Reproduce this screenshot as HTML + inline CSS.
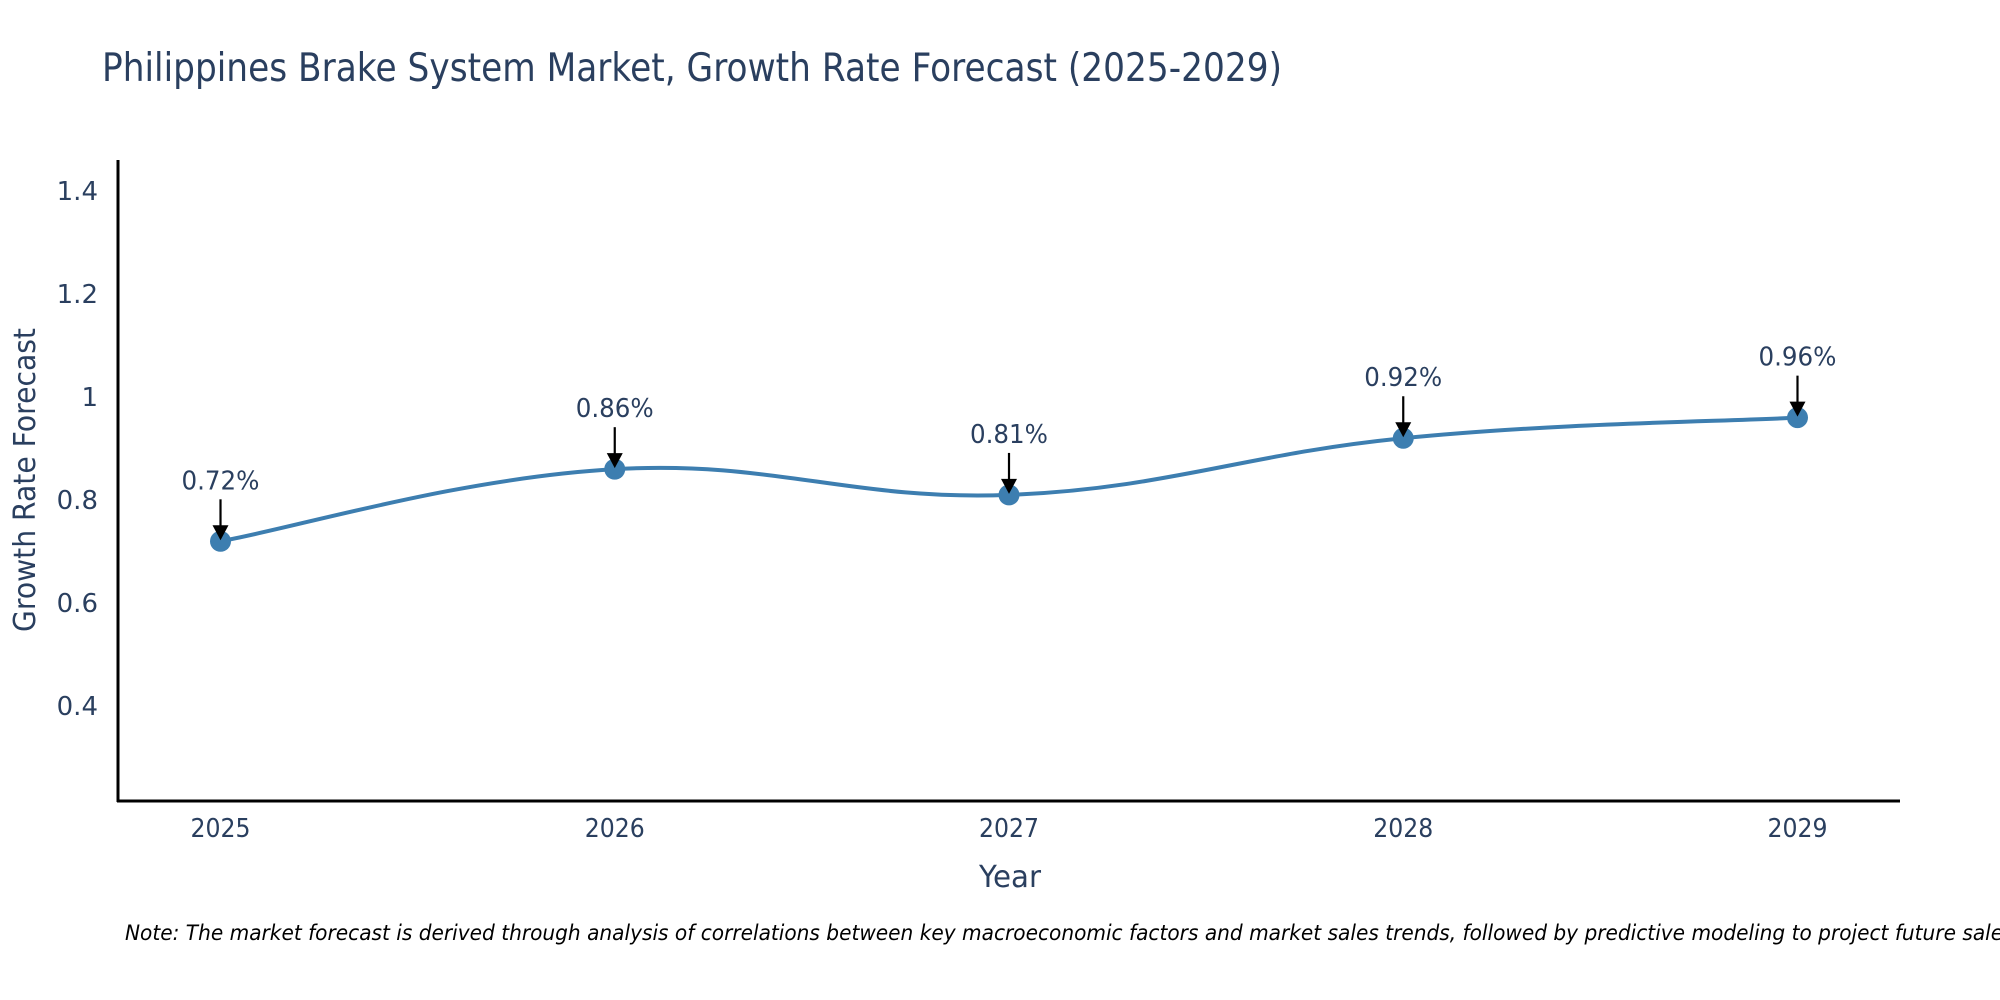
<!DOCTYPE html>
<html><head><meta charset="utf-8"><style>
html,body{margin:0;padding:0;background:#fff;}
svg{display:block;font-family:"DejaVu Sans","Liberation Sans",sans-serif;}
</style></head><body>
<svg id="chart" width="2000" height="1000" viewBox="0 0 2000 1000">
<text x="102" y="81" font-size="39" fill="#2a3f5f" textLength="1180" lengthAdjust="spacingAndGlyphs">Philippines Brake System Market, Growth Rate Forecast (2025-2029)</text>
<g id="yticks"></g>
<g id="xticks"></g>
<g id="series"></g>
<g id="annots"></g>
<line x1="118" y1="160" x2="118" y2="802" stroke="#000" stroke-width="3"/>
<line x1="117" y1="801" x2="1900" y2="801" stroke="#000" stroke-width="3"/>
<text transform="translate(35,480) rotate(-90)" text-anchor="middle" font-size="30" fill="#2a3f5f" textLength="304" lengthAdjust="spacingAndGlyphs">Growth Rate Forecast</text>
<text x="1010" y="887" text-anchor="middle" font-size="30" fill="#2a3f5f" textLength="62" lengthAdjust="spacingAndGlyphs">Year</text>
<text x="125" y="940" font-size="21" font-style="italic" fill="#000" textLength="1895" lengthAdjust="spacingAndGlyphs">Note: The market forecast is derived through analysis of correlations between key macroeconomic factors and market sales trends, followed by predictive modeling to project future sales.</text>
</svg>
<script>
const years = [2025, 2026, 2027, 2028, 2029];
const values = [0.72, 0.86, 0.81, 0.92, 0.96];
const labels = ["0.72%", "0.86%", "0.81%", "0.92%", "0.96%"];
const yTickValues = [0.4, 0.6, 0.8, 1, 1.2, 1.4];
const yTickLabels = ["0.4", "0.6", "0.8", "1", "1.2", "1.4"];

const NS = "http://www.w3.org/2000/svg";
const xMin = 2024.74, xMax = 2029.26, xL = 118, xR = 1900;
const yMin = 0.216, yMax = 1.46, yB = 801, yT = 160;
function xs(v){ return xL + (v - xMin) / (xMax - xMin) * (xR - xL); }
function ys(v){ return yB - (v - yMin) / (yMax - yMin) * (yB - yT); }
function mk(tag, attrs, parent){ const e = document.createElementNS(NS, tag); for (const k in attrs) e.setAttribute(k, attrs[k]); parent.appendChild(e); return e; }

const yt = document.getElementById('yticks');
yTickValues.forEach((v, i) => {
  const t = mk('text', {x: 98, y: ys(v) + 9, 'text-anchor': 'end', 'font-size': 26, fill: '#2a3f5f'}, yt);
  t.textContent = yTickLabels[i];
  
  
});
const xt = document.getElementById('xticks');
years.forEach((y) => {
  const t = mk('text', {x: xs(y), y: 837, 'text-anchor': 'middle', 'font-size': 26, fill: '#2a3f5f', textLength: 60, lengthAdjust: 'spacingAndGlyphs'}, xt);
  t.textContent = String(y);
  
  
});

const pts = years.map((y, i) => [xs(y), ys(values[i])]);
let d = 'M' + pts[0][0] + ',' + pts[0][1];
const s = 0.2;
for (let i = 0; i < pts.length - 1; i++) {
  const p0 = pts[Math.max(i - 1, 0)], p1 = pts[i], p2 = pts[i + 1], p3 = pts[Math.min(i + 2, pts.length - 1)];
  const c1 = [p1[0] + (p2[0] - p0[0]) * s, p1[1] + (p2[1] - p0[1]) * s];
  const c2 = [p2[0] - (p3[0] - p1[0]) * s, p2[1] - (p3[1] - p1[1]) * s];
  d += ' C' + c1[0] + ',' + c1[1] + ' ' + c2[0] + ',' + c2[1] + ' ' + p2[0] + ',' + p2[1];
}
const ser = document.getElementById('series');
const line = mk('path', {d: d, fill: 'none', stroke: '#3d7eb0', 'stroke-width': 4}, ser);


pts.forEach((p) => {
  const c = mk('circle', {cx: p[0], cy: p[1], r: 10.5, fill: '#3d7eb0'}, ser);
  
  
});

const an = document.getElementById('annots');
pts.forEach((p, i) => {
  const l = mk('line', {x1: p[0], y1: p[1] - 42, x2: p[0], y2: p[1] - 14, stroke: '#000', 'stroke-width': 2.2}, an);
  
  
  const h = mk('polygon', {points: (p[0] - 8) + ',' + (p[1] - 16) + ' ' + (p[0] + 8) + ',' + (p[1] - 16) + ' ' + p[0] + ',' + (p[1] - 1), fill: '#000'}, an);
  
  
  const t = mk('text', {x: p[0], y: p[1] - 52, 'text-anchor': 'middle', 'font-size': 26, fill: '#2a3f5f', textLength: 78, lengthAdjust: 'spacingAndGlyphs'}, an);
  t.textContent = labels[i];
  
  
});
</script>
</body></html>
